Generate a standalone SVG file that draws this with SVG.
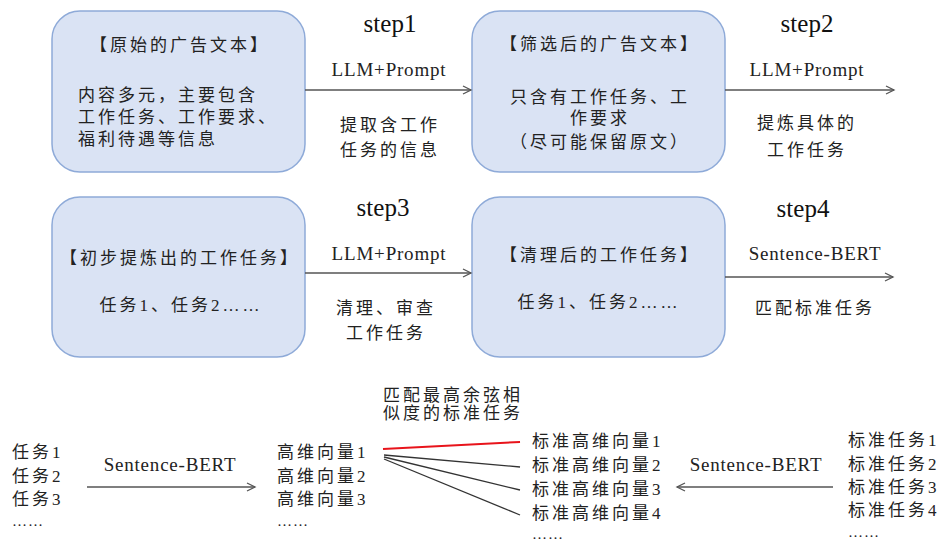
<svg xmlns="http://www.w3.org/2000/svg" width="941" height="543" viewBox="0 0 941 543">
<defs>
<style>
.box{fill:#dae3f4;stroke:#8eaad8;stroke-width:1.5}
.t{font-family:"Liberation Serif","Noto Sans CJK SC",serif;font-size:17px;fill:#222;letter-spacing:3px}
.d{font-family:"Liberation Serif",serif;font-size:15px;fill:#222;letter-spacing:1px}
.c{text-anchor:middle}
.step{font-family:"Liberation Serif",serif;font-size:25px;fill:#111;text-anchor:middle}
.lat{font-family:"Liberation Serif",serif;font-size:19px;fill:#222;text-anchor:middle;letter-spacing:0.8px}
.arr{stroke:#555;stroke-width:1.3;fill:none}
</style>
<marker id="ah" markerWidth="12" markerHeight="12" refX="9" refY="5" orient="auto" markerUnits="userSpaceOnUse">
<path d="M1,1 L9,5 L1,9" fill="none" stroke="#555" stroke-width="1.3"/>
</marker>
</defs>
<rect width="941" height="543" fill="#fff"/>

<g id="node1">
<rect class="box" x="52" y="11" width="253" height="161" rx="28"/>
<text class="t c" x="180" y="51">【原始的广告文本】</text>
<text class="t" x="78" y="101">内容多元，主要包含</text>
<text class="t" x="78" y="123">工作任务、工作要求、</text>
<text class="t" x="78" y="145">福利待遇等信息</text>
</g>
<g id="node2">
<rect class="box" x="472" y="11" width="253" height="161" rx="28"/>
<text class="t c" x="600" y="50">【筛选后的广告文本】</text>
<text class="t c" x="600" y="103">只含有工作任务、工</text>
<text class="t c" x="600" y="124">作要求</text>
<text class="t c" x="600" y="148">（尽可能保留原文）</text>
</g>
<g id="node3">
<rect class="box" x="52" y="197" width="253" height="160" rx="28"/>
<text class="t c" x="180" y="264">【初步提炼出的工作任务】</text>
<text class="t c" x="181" y="311">任务1、任务2……</text>
</g>
<g id="node4">
<rect class="box" x="472" y="197" width="253" height="160" rx="28"/>
<text class="t c" x="600" y="261">【清理后的工作任务】</text>
<text class="t c" x="599" y="308">任务1、任务2……</text>
</g>

<g id="labels">
<text class="step" x="390" y="32">step1</text>
<text class="lat" x="389" y="76">LLM+Prompt</text>
<text class="t c" x="390" y="131">提取含工作</text>
<text class="t c" x="390" y="156">任务的信息</text>

<text class="step" x="807" y="32">step2</text>
<text class="lat" x="807" y="76">LLM+Prompt</text>
<text class="t c" x="807" y="129">提炼具体的</text>
<text class="t c" x="807" y="156">工作任务</text>

<text class="step" x="383" y="216">step3</text>
<text class="lat" x="389" y="260">LLM+Prompt</text>
<text class="t c" x="386" y="314">清理、审查</text>
<text class="t c" x="386" y="339">工作任务</text>

<text class="step" x="803" y="217">step4</text>
<text class="lat" x="815" y="260">Sentence-BERT</text>
<text class="t c" x="815" y="314">匹配标准任务</text>

<text class="t" x="383" y="401">匹配最高余弦相</text>
<text class="t" x="383" y="419">似度的标准任务</text>

<text class="t" x="12" y="458">任务1</text>
<text class="t" x="12" y="482">任务2</text>
<text class="t" x="12" y="505">任务3</text>
<text class="d" x="12" y="526">……</text>
<text class="lat" x="170" y="471">Sentence-BERT</text>

<text class="t" x="277" y="458">高维向量1</text>
<text class="t" x="277" y="482">高维向量2</text>
<text class="t" x="277" y="505">高维向量3</text>
<text class="d" x="277" y="526">……</text>

<text class="t" x="532" y="447">标准高维向量1</text>
<text class="t" x="532" y="471">标准高维向量2</text>
<text class="t" x="532" y="495">标准高维向量3</text>
<text class="t" x="532" y="519">标准高维向量4</text>
<text class="d" x="532" y="539">……</text>

<text class="lat" x="756" y="471">Sentence-BERT</text>

<text class="t" x="848" y="446">标准任务1</text>
<text class="t" x="848" y="470">标准任务2</text>
<text class="t" x="848" y="493">标准任务3</text>
<text class="t" x="848" y="516">标准任务4</text>
<text class="d" x="848" y="537">……</text>
</g>

<g id="connectors">
<line class="arr" x1="305" y1="90" x2="471" y2="90" marker-end="url(#ah)"/>
<line class="arr" x1="725" y1="90" x2="894" y2="90" marker-end="url(#ah)"/>
<line class="arr" x1="305" y1="273" x2="471" y2="273" marker-end="url(#ah)"/>
<line class="arr" x1="725" y1="277" x2="893" y2="277" marker-end="url(#ah)"/>
<line class="arr" x1="87" y1="487" x2="255" y2="487" marker-end="url(#ah)"/>
<line class="arr" x1="833" y1="487" x2="677" y2="487" marker-end="url(#ah)"/>
<line x1="383" y1="449" x2="520" y2="442" stroke="#e8141b" stroke-width="2"/>
<line x1="384" y1="455" x2="520" y2="467" stroke="#333" stroke-width="1.3"/>
<line x1="384" y1="457" x2="520" y2="490" stroke="#333" stroke-width="1.3"/>
<line x1="384" y1="459" x2="520" y2="515" stroke="#333" stroke-width="1.3"/>
</g>
</svg>
